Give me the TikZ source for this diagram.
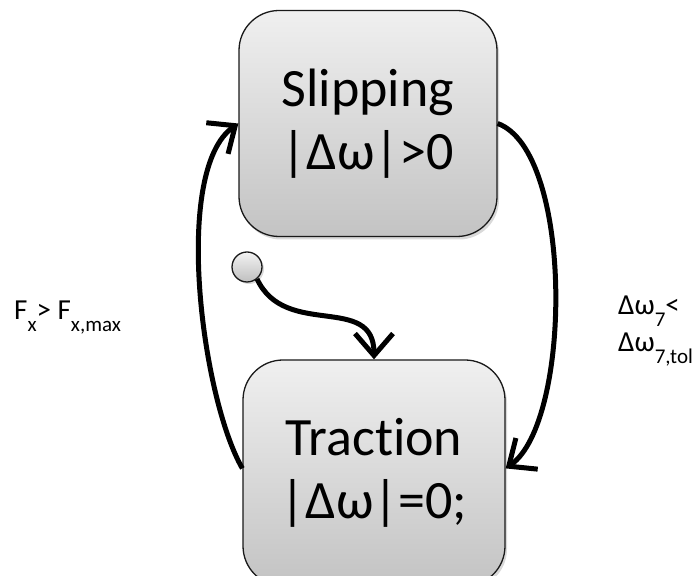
\documentclass[tikz,border=0pt]{standalone}
\usepackage{fontspec}
\setmainfont{Carlito}[Ligatures=NoCommon]
\usetikzlibrary{arrows.meta,shadows}
\newcommand{\lowtxt}[1]{\raisebox{-12pt}{\fontsize{21}{24}\selectfont #1}}

\begin{document}
\begin{tikzpicture}[x=1pt, y=1pt,
    statebox/.style={rectangle, rounded corners=40pt, draw=black!90, line width=1.3pt,
        top color=gray!12, bottom color=gray!47, align=center, inner sep=0pt,
        minimum height=226pt, font=\fontsize{54}{63}\selectfont,
        drop shadow={shadow xshift=2pt, shadow yshift=-3pt, opacity=0.3}},
    initdot/.style={circle, draw=black!90, line width=1.3pt, minimum size=30pt, inner sep=0pt,
        top color=gray!10, bottom color=gray!50,
        drop shadow={shadow xshift=2pt, shadow yshift=-2pt, opacity=0.3}},
    trans/.style={line width=5pt, -{Straight Barb[length=22pt, width=38pt]}},
    lbl/.style={font=\fontsize{29}{37}\selectfont, inner sep=0pt, align=left, anchor=base west}]
    \useasboundingbox (0,0) rectangle (698,575);
    \node[statebox, minimum width=258pt] (slip) at (368,451.5) {Slipping\\|Δω|>0};
    \node[statebox, minimum width=262pt] (trac) at (374,102) {Traction\\|Δω|=0;};
    \node[initdot] (start) at (247,308) {};

    % guards
    \node[lbl] (lblL) at (14,255) {F\lowtxt{x}> F\lowtxt{x,max}};
    \node[lbl] (lblR) at (618,223) {Δω\lowtxt{7}<\\Δω\lowtxt{7,tol}};

    % initial transition
    \draw[trans] (start.-50) to[out=-65, in=90, looseness=1.2] (trac.north);
    % loops between the states
    \draw[trans] (trac.178) to[out=120, in=215, looseness=0.6] (slip.west);
    \draw[trans] (slip.east) to[out=-20, in=35, looseness=0.6] (trac.2);

\end{tikzpicture}
\end{document}
